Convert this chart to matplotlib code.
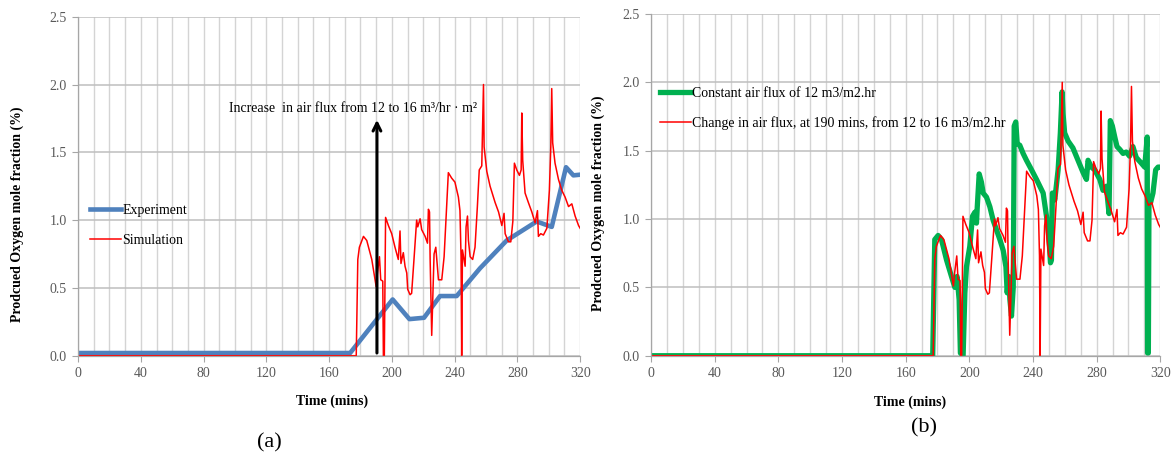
import numpy as np
import matplotlib
matplotlib.use("Agg")
import matplotlib.pyplot as plt
from matplotlib.ticker import MultipleLocator

plt.rcParams["font.family"] = ["Liberation Serif", "DejaVu Serif"]

# experiment (panel a)
exp_t = [0, 173.4, 200.5, 211.2, 220.5, 230.7, 241.3, 256.2, 273.2, 292.3, 301.9, 311, 315.7, 320]
exp_v = [0.02, 0.02, 0.415, 0.27, 0.28, 0.44, 0.44, 0.645, 0.85, 0.99, 0.95, 1.39, 1.33, 1.335]

# simulation with air flux change at 190 mins (both panels)
sim_t = [0, 177.3, 178.3, 179.3, 181.9, 184, 187.2, 190, 190.8, 192.1, 192.9, 194.2, 194.6, 195.2,
         196, 197.8, 199.9, 202, 204.1, 205.2, 205.8, 207.3, 208.4, 209.5, 210.1, 211.6, 212.6,
         214.1, 215.8, 216.5, 218, 219, 221.2, 222.7, 223.3, 224, 224.4, 225.4, 226.9, 228, 229.7,
         231.8, 233.3, 236, 238.1, 240.2, 242.4, 243.4, 244.1, 244.5, 245.0, 246.7, 247.3, 248.2,
         248.8, 249.9, 251.5, 253, 254.5, 255.7, 257.3, 258.4, 258.8, 260.5, 262.6, 265.8, 268,
         270.1, 271.5, 272.2, 274.3, 275.8, 277.1, 278.1, 279.6, 281.3, 282.4, 282.8, 283.4, 284.9,
         287, 289.2, 291.3, 292.8, 293.4, 294.9, 296.6, 298.8, 300.4, 301.3, 301.9, 302.5, 304,
         306.2, 308.3, 310.4, 312.6, 314.7, 316.8, 319, 320]
sim_v = [0, 0, 0.71, 0.80, 0.88, 0.85, 0.71, 0.51, 0.61, 0.73, 0.56, 0.55, 0.0, 0.0,
         1.02, 0.96, 0.90, 0.80, 0.71, 0.92, 0.68, 0.76, 0.66, 0.61, 0.49, 0.45, 0.46,
         0.71, 1.00, 0.95, 1.01, 0.93, 0.88, 0.83, 1.08, 1.06, 0.71, 0.15, 0.75, 0.80, 0.56,
         0.56, 0.73, 1.35, 1.31, 1.28, 1.17, 1.07, 0.73, 0.0, 0.78, 0.66, 0.95, 1.03,
         0.85, 0.73, 0.71, 0.80, 1.10, 1.37, 1.40, 2.0, 1.54, 1.36, 1.25, 1.13, 1.06,
         0.96, 1.05, 0.90, 0.84, 0.84, 0.99, 1.42, 1.37, 1.33, 1.37, 1.79, 1.44, 1.20,
         1.13, 1.06, 0.98, 1.07, 0.88, 0.90, 0.89, 0.94, 1.22, 1.54, 1.97, 1.57, 1.42,
         1.30, 1.22, 1.17, 1.10, 1.12, 1.03, 0.96, 0.94]

# constant air flux (panel b)
const_t = [0, 177, 178.3, 180.4, 182.5, 185.7, 188.8, 190.9, 192.3, 193.6, 194.4, 196.1, 197.2,
           198.2, 200.3, 202, 203.5, 204.5, 205, 206.2, 207.6, 208.7, 210.8, 212.9, 215, 217.1,
           219.2, 221.3, 223, 223.8, 224.7, 225.5, 226.5, 227.6, 228.2, 229.2, 230.1, 231.7,
           233.8, 235.9, 239.1, 242.2, 244.3, 246.4, 248.5, 250.1, 251, 251.6, 252.2, 253.7,
           255.8, 257.2, 258.3, 258.9, 259.9, 262.1, 265.1, 268.3, 271.5, 273.6, 274.6, 276.7,
           278.8, 282, 284, 286.1, 287.8, 288.6, 289.9, 291.4, 292.8, 294.5, 296.6, 298.6,
           300.7, 302.8, 304.9, 308, 310.2, 311.8, 312.0, 312.5, 312.9, 313.9, 315.4, 317.1,
           318.6, 320]
const_v = [0, 0, 0.85, 0.88, 0.85, 0.70, 0.58, 0.50, 0.58, 0.41, 0.02, 0.0, 0.46,
           0.65, 0.80, 1.02, 1.05, 0.97, 1.09, 1.33, 1.27, 1.19, 1.16, 1.09, 0.99, 0.92,
           0.85, 0.77, 0.65, 0.46, 0.58, 0.41, 0.29, 0.50, 1.68, 1.71, 1.55, 1.54,
           1.48, 1.43, 1.36, 1.29, 1.24, 1.19, 1.02, 0.85, 0.68, 0.70, 1.19, 1.14,
           1.36, 1.63, 1.93, 1.77, 1.63, 1.57, 1.52, 1.43, 1.34, 1.29, 1.43, 1.38,
           1.36, 1.29, 1.21, 1.24, 1.04, 1.72, 1.68, 1.60, 1.53, 1.51, 1.48, 1.49,
           1.46, 1.53, 1.45, 1.41, 1.38, 1.60, 0.02, 0.02, 1.14, 1.12, 1.19, 1.36,
           1.38, 1.38]

x_ticks = [0, 40, 80, 120, 160, 200, 240, 280, 320]
y_ticks = [0.0, 0.5, 1.0, 1.5, 2.0, 2.5]

BLUE = "#4F81BD"
GREEN = "#00B050"
RED = "#FF0000"
GRAY = "#595959"
FS = 10

fig = plt.figure(figsize=(11.72, 4.59), dpi=100)
ax_a = fig.add_axes([0.0666, 0.225, 0.4284, 0.7386])
ax_b = fig.add_axes([0.5555, 0.225, 0.4345, 0.7445])


def formatar_eixo(ax):
    ax.set_xlim(0, 320)
    ax.set_ylim(0, 2.5)
    ax.set_xticks(x_ticks)
    ax.set_yticks(y_ticks)
    ax.set_yticklabels([f"{v:.1f}" for v in y_ticks])
    ax.xaxis.set_minor_locator(MultipleLocator(10))
    ax.grid(True, which="minor", axis="x", color="#d4d4d4", lw=1.0)
    ax.grid(True, which="major", axis="x", color="#d4d4d4", lw=1.0)
    ax.grid(True, which="major", axis="y", color="#bfbfbf", lw=1.1)
    ax.set_axisbelow(True)
    ax.tick_params(which="minor", length=0)
    ax.tick_params(which="major", length=4, color="#a6a6a6", labelcolor=GRAY, labelsize=FS, pad=4)
    for lado in ["top", "right"]:
        ax.spines[lado].set_visible(False)
    for lado in ["left", "bottom"]:
        ax.spines[lado].set_color("#a6a6a6")
        ax.spines[lado].set_linewidth(0.9)
    ax.set_xlabel("Time (mins)", fontsize=FS, fontweight="bold")
    ax.set_ylabel("Prodcued Oxygen mole fraction (%)", fontsize=FS, fontweight="bold")


formatar_eixo(ax_a)
formatar_eixo(ax_b)

# panel (a)
ax_a.plot(exp_t, exp_v, color=BLUE, lw=3.3, label="Experiment", solid_joinstyle="round")
ax_a.plot(sim_t, sim_v, color=RED, lw=1.1, label="Simulation")
ax_a.annotate("", xy=(190.5, 1.76), xytext=(190.5, 0.0),
              arrowprops=dict(arrowstyle="->", color="black", lw=2.2, mutation_scale=14))
ax_a.text(96, 1.82, "Increase  in air flux from 12 to 16 m³/hr · m²", fontsize=FS, va="center", ha="left")
ax_a.legend(loc="upper left", bbox_to_anchor=(0.024, 0.447), frameon=False, fontsize=FS,
            handlelength=2.2, handletextpad=0.1, labelspacing=1.2, borderpad=0, borderaxespad=0)
ax_a.xaxis.set_label_coords(0.506, -0.115)
ax_a.yaxis.set_label_coords(-0.108, 0.4165)

# panel (b)
ax_b.plot(const_t, const_v, color=GREEN, lw=3.8, label="Constant air flux of 12 m3/m2.hr",
          solid_joinstyle="round")
ax_b.plot(sim_t, sim_v, color=RED, lw=1.1,
          label="Change in air flux, at 190 mins, from 12 to 16 m3/m2.hr")
ax_b.legend(loc="upper left", bbox_to_anchor=(0.018, 0.787), frameon=False, fontsize=FS,
            handlelength=2.2, handletextpad=0.1, labelspacing=1.2, borderpad=0, borderaxespad=0)
ax_b.xaxis.set_label_coords(0.508, -0.115)
ax_b.yaxis.set_label_coords(-0.09, 0.445)

fig.text(269 / 1172, 1 - 443 / 459, "(a)", fontsize=16, ha="center", va="center")
fig.text(924 / 1172, 1 - 428 / 459, "(b)", fontsize=16, ha="center", va="center")

fig.savefig("out.png", dpi=100)
